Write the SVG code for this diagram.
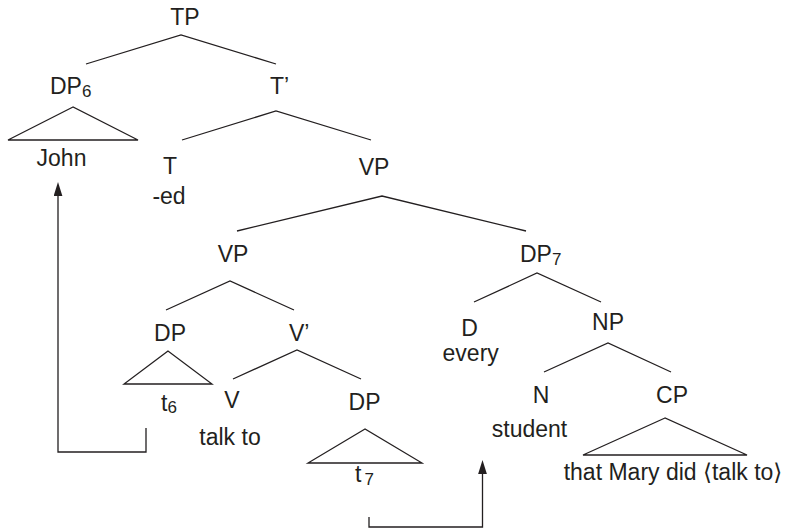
<svg xmlns="http://www.w3.org/2000/svg" width="787" height="528" viewBox="0 0 787 528">
<style>
text{font-family:"Liberation Sans",Arial,"DejaVu Sans",sans-serif;font-size:23px;fill:#231f20;text-anchor:middle}
.s{text-anchor:start}
.sub{font-size:17px}
.e{fill:none;stroke:#231f20;stroke-width:1.3}
.tri{fill:none;stroke:#231f20;stroke-width:1.3;stroke-linejoin:miter}
.arr{fill:none;stroke:#231f20;stroke-width:1.3}
</style>
<defs>
<marker id="ah" markerUnits="userSpaceOnUse" markerWidth="15" markerHeight="10" refX="0" refY="4.4" orient="auto">
<path d="M0,0 L14,4.4 L0,8.8 Z" fill="#231f20"/>
</marker>
</defs>
<rect width="787" height="528" fill="#fff"/>
<g id="edges">
<polyline class="e" points="86,64 181,35 276,64"/>
<polyline class="e" points="182,140 276,111 371,140"/>
<polyline class="e" points="237,231 382,196 526,231"/>
<polyline class="e" points="166,310 230,281 294,310"/>
<polyline class="e" points="233,379 297,350 361,379"/>
<polyline class="e" points="474,302 537,273 601,302"/>
<polyline class="e" points="544,372 608,343 671,372"/>
<polygon class="tri" points="73,107 8,140 138,140"/>
<polygon class="tri" points="168,351 124,384 212,384"/>
<polygon class="tri" points="365,429 308,463 422,463"/>
<polygon class="tri" points="665,418 583,455 747,455"/>
</g>
<g id="movement">
<polyline class="arr" points="146,428 146,452 58,452 58,196" marker-end="url(#ah)"/>
<polyline class="arr" points="369,517 369,527 482.5,527 482.5,474" marker-end="url(#ah)"/>
</g>
<g id="n-TP"><text x="185" y="25">TP</text></g>
<g id="n-DP6"><text class="s" x="50" y="94">DP<tspan class="sub" dy="3">6</tspan></text></g>
<g id="n-John"><text x="61.5" y="166">John</text></g>
<g id="n-Tbar"><text class="s" x="270" y="94">T’</text></g>
<g id="n-T"><text x="170" y="174">T</text><text x="169" y="204">-ed</text></g>
<g id="n-VP1"><text x="374" y="175">VP</text></g>
<g id="n-VP2"><text x="233" y="262">VP</text></g>
<g id="n-DP7"><text class="s" x="520" y="262">DP<tspan class="sub" dy="3">7</tspan></text></g>
<g id="n-DP"><text x="170" y="341">DP</text></g>
<g id="n-t6"><text class="s" x="161" y="411">t<tspan class="sub" dy="2">6</tspan></text></g>
<g id="n-Vbar"><text class="s" x="289" y="341">V’</text></g>
<g id="n-V"><text x="232" y="408">V</text><text x="230" y="445">talk to</text></g>
<g id="n-DPobj"><text x="364.5" y="410">DP</text></g>
<g id="n-t7"><text class="s" x="355" y="481.5">t<tspan class="sub" dx="3" dy="3">7</tspan></text></g>
<g id="n-D"><text x="469.5" y="336">D</text><text x="470.7" y="361">every</text></g>
<g id="n-NP"><text x="608" y="330">NP</text></g>
<g id="n-N"><text x="541" y="403">N</text><text x="529.5" y="436.5">student</text></g>
<g id="n-CP"><text x="672" y="403">CP</text></g>
<g id="n-CPtext"><text x="673" y="480">that Mary did ⟨talk to⟩</text></g>
</svg>
